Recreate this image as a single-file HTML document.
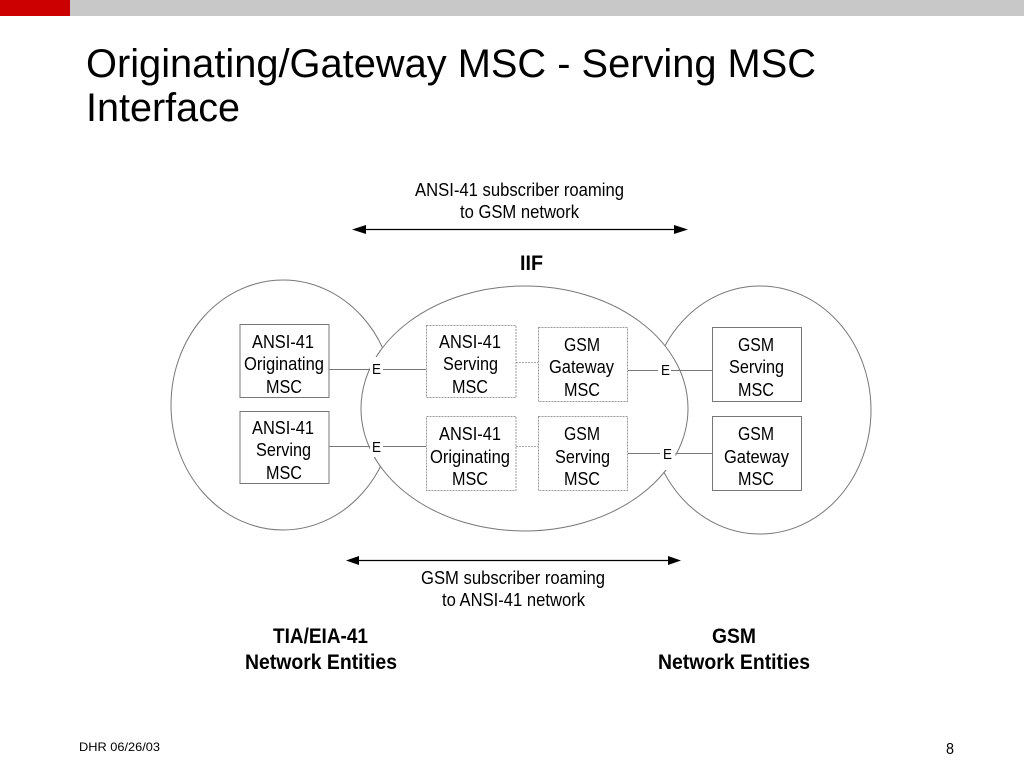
<!DOCTYPE html>
<html><head><meta charset="utf-8"><style>
html,body{margin:0;padding:0;background:#fff}
svg{display:block;filter:blur(0.3px)}
text{font-family:"Liberation Sans",sans-serif;fill:#000}
.t{font-size:18px}
.b{font-size:21px;font-weight:bold}
.l{stroke:#777;stroke-width:1;fill:none}
.d{stroke:#999;stroke-width:1;stroke-dasharray:2 1;fill:#fff}
.s{stroke:#777;stroke-width:1;fill:#fff}
.e{font-size:15px}
</style></head><body>
<svg xmlns="http://www.w3.org/2000/svg" width="1024" height="768" viewBox="0 0 1024 768">
<rect width="1024" height="768" fill="#fff"/>
<rect x="0" y="0" width="70" height="16" fill="#cc0000"/>
<rect x="70" y="0" width="954" height="16" fill="#c8c8c8"/>
<text x="86" y="77" font-size="40" textLength="730" lengthAdjust="spacingAndGlyphs">Originating/Gateway MSC - Serving MSC</text>
<text x="86" y="121" font-size="40" textLength="154" lengthAdjust="spacingAndGlyphs">Interface</text>

<text class="t" x="415" y="196" textLength="209" lengthAdjust="spacingAndGlyphs">ANSI-41 subscriber roaming</text>
<text class="t" x="460" y="218" textLength="119" lengthAdjust="spacingAndGlyphs">to GSM network</text>
<line x1="360" y1="229.5" x2="680" y2="229.5" stroke="#000" stroke-width="1.2"/>
<polygon points="352,229.5 366,225 366,234" fill="#000"/>
<polygon points="688,229.5 674,225 674,234" fill="#000"/>
<text class="b" x="520" y="270" textLength="23" lengthAdjust="spacingAndGlyphs">IIF</text>

<ellipse cx="283" cy="405" rx="112" ry="125" class="l"/>
<ellipse cx="760" cy="410" rx="111" ry="124" class="l"/>
<ellipse cx="524.5" cy="408.5" rx="163.5" ry="122.5" style="fill:#fff;stroke:#777;stroke-width:1"/>

<line class="l" x1="329" y1="369.5" x2="426" y2="369.5"/>
<line class="l" x1="329" y1="446.5" x2="426" y2="446.5"/>
<line class="l" x1="628" y1="370.5" x2="712" y2="370.5"/>
<line class="l" x1="628" y1="453.5" x2="712" y2="453.5"/>
<line x1="516" y1="362.5" x2="538" y2="362.5" stroke="#aaa" stroke-dasharray="2 1"/>
<line x1="516" y1="446.5" x2="538" y2="446.5" stroke="#aaa" stroke-dasharray="2 1"/>

<rect x="370" y="357" width="13" height="21" fill="#fff"/>
<rect x="370" y="437" width="13" height="20" fill="#fff"/>
<rect x="658" y="362" width="13" height="16" fill="#fff"/>
<rect x="660" y="447" width="15.5" height="23" fill="#fff"/>
<text class="e" x="372" y="374" textLength="9" lengthAdjust="spacingAndGlyphs">E</text>
<text class="e" x="372" y="452" textLength="9" lengthAdjust="spacingAndGlyphs">E</text>
<text class="e" x="661" y="375" textLength="9" lengthAdjust="spacingAndGlyphs">E</text>
<text class="e" x="663" y="459" textLength="9" lengthAdjust="spacingAndGlyphs">E</text>

<rect class="s" x="240" y="324.5" width="89" height="73"/>
<rect class="s" x="240" y="411.5" width="89" height="72"/>
<rect class="d" x="426.5" y="325.5" width="89.5" height="72"/>
<rect class="d" x="426.5" y="416.5" width="89.5" height="74"/>
<rect class="d" x="538.5" y="327.5" width="89" height="74"/>
<rect class="d" x="538.5" y="416.5" width="89" height="74"/>
<rect class="s" x="712.5" y="327.5" width="89" height="74"/>
<rect class="s" x="712.5" y="416.5" width="89" height="74"/>

<text class="t" x="252" y="348" textLength="62" lengthAdjust="spacingAndGlyphs">ANSI-41</text>
<text class="t" x="244" y="370" textLength="80" lengthAdjust="spacingAndGlyphs">Originating</text>
<text class="t" x="266" y="393" textLength="36" lengthAdjust="spacingAndGlyphs">MSC</text>

<text class="t" x="252" y="434" textLength="62" lengthAdjust="spacingAndGlyphs">ANSI-41</text>
<text class="t" x="256" y="456" textLength="55" lengthAdjust="spacingAndGlyphs">Serving</text>
<text class="t" x="266" y="479" textLength="36" lengthAdjust="spacingAndGlyphs">MSC</text>

<text class="t" x="439" y="348" textLength="62" lengthAdjust="spacingAndGlyphs">ANSI-41</text>
<text class="t" x="443" y="370" textLength="55" lengthAdjust="spacingAndGlyphs">Serving</text>
<text class="t" x="452" y="393" textLength="36" lengthAdjust="spacingAndGlyphs">MSC</text>

<text class="t" x="439" y="440" textLength="62" lengthAdjust="spacingAndGlyphs">ANSI-41</text>
<text class="t" x="430" y="463" textLength="80" lengthAdjust="spacingAndGlyphs">Originating</text>
<text class="t" x="452" y="485" textLength="36" lengthAdjust="spacingAndGlyphs">MSC</text>

<text class="t" x="564" y="351" textLength="36" lengthAdjust="spacingAndGlyphs">GSM</text>
<text class="t" x="549" y="373" textLength="65" lengthAdjust="spacingAndGlyphs">Gateway</text>
<text class="t" x="564" y="396" textLength="36" lengthAdjust="spacingAndGlyphs">MSC</text>

<text class="t" x="564" y="440" textLength="36" lengthAdjust="spacingAndGlyphs">GSM</text>
<text class="t" x="555" y="463" textLength="55" lengthAdjust="spacingAndGlyphs">Serving</text>
<text class="t" x="564" y="485" textLength="36" lengthAdjust="spacingAndGlyphs">MSC</text>

<text class="t" x="738" y="351" textLength="36" lengthAdjust="spacingAndGlyphs">GSM</text>
<text class="t" x="729" y="373" textLength="55" lengthAdjust="spacingAndGlyphs">Serving</text>
<text class="t" x="738" y="396" textLength="36" lengthAdjust="spacingAndGlyphs">MSC</text>

<text class="t" x="738" y="440" textLength="36" lengthAdjust="spacingAndGlyphs">GSM</text>
<text class="t" x="724" y="463" textLength="65" lengthAdjust="spacingAndGlyphs">Gateway</text>
<text class="t" x="738" y="485" textLength="36" lengthAdjust="spacingAndGlyphs">MSC</text>

<line x1="353" y1="560.5" x2="674" y2="560.5" stroke="#000" stroke-width="1.2"/>
<polygon points="346,560.5 359,556 359,565" fill="#000"/>
<polygon points="681,560.5 668,556 668,565" fill="#000"/>
<text class="t" x="421" y="584" textLength="184" lengthAdjust="spacingAndGlyphs">GSM subscriber roaming</text>
<text class="t" x="442" y="606" textLength="143" lengthAdjust="spacingAndGlyphs">to ANSI-41 network</text>

<text class="b" x="273" y="643" textLength="95" lengthAdjust="spacingAndGlyphs">TIA/EIA-41</text>
<text class="b" x="245" y="669" textLength="152" lengthAdjust="spacingAndGlyphs">Network Entities</text>
<text class="b" x="712" y="643" textLength="44" lengthAdjust="spacingAndGlyphs">GSM</text>
<text class="b" x="658" y="669" textLength="152" lengthAdjust="spacingAndGlyphs">Network Entities</text>

<text x="79" y="751" font-size="12" textLength="81" lengthAdjust="spacingAndGlyphs">DHR 06/26/03</text>
<text x="946" y="754" font-size="16" textLength="8" lengthAdjust="spacingAndGlyphs">8</text>
</svg>
</body></html>
